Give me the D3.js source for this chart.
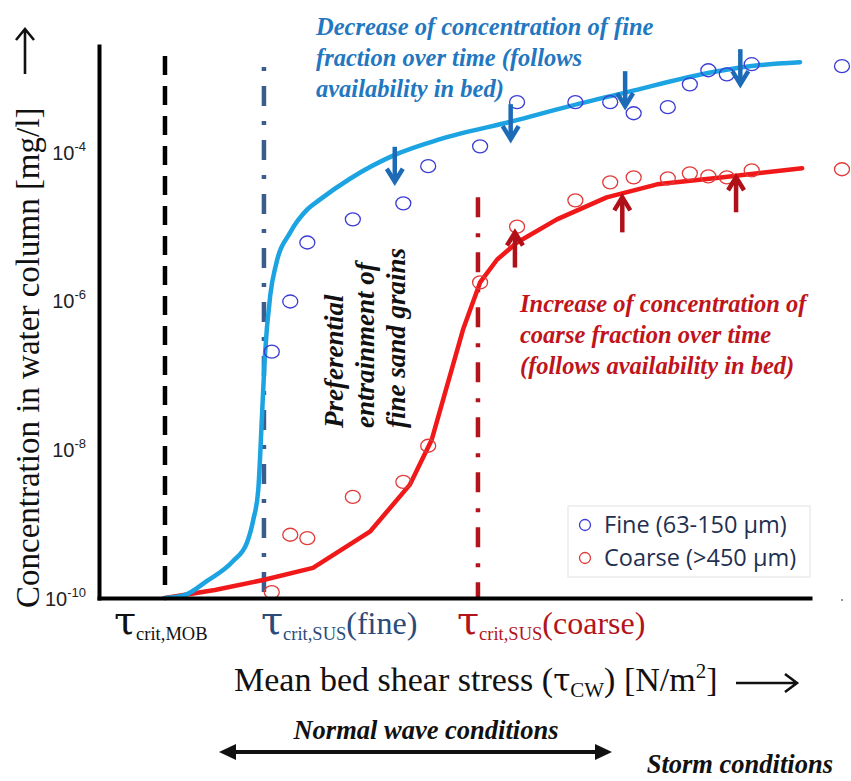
<!DOCTYPE html>
<html>
<head>
<meta charset="utf-8">
<script src="https://cdn.jsdelivr.net/npm/d3@7"></script>
<style>
  body { margin: 0; background: #ffffff; }
  svg { display: block; }
</style>
</head>
<body>
<svg id="chart" width="851" height="781"></svg>
<script>
// Shear stress is given in relative axis units (0–100 along the axis), concentration in mg/l.

// Model curve: fine fraction (63-150 µm)
const fineModelTau = [9.28, 12.1, 15.2, 18.8, 20.8, 21.7, 22.4, 22.9, 23.3, 24.1, 24.9, 26.9, 29.3, 31.1, 35.3, 41.6, 48.0, 58.2, 66.2, 74.3, 86.4, 93.0, 98.6];
const fineModelConc = [1e-10, 1.10e-10, 1.70e-10, 3.10e-10, 5.52e-10, 1.13e-9, 2.86e-9, 2.51e-8, 1.62e-7, 1.22e-6, 3.09e-6, 8.34e-6, 1.70e-5, 2.32e-5, 4.40e-5, 9.2e-5, 1.50e-4, 2.62e-4, 4.17e-4, 6.44e-4, 1.20e-3, 1.49e-3, 1.63e-3];

// Model curve: coarse fraction (>450 µm)
const coarseModelTau = [9.28, 16.3, 23.1, 30.1, 38.1, 43.7, 46.8, 48.4, 51.2, 53.6, 56.0, 58.8, 64.4, 71.4, 78.5, 87.8, 98.9];
const coarseModelConc = [1e-10, 1.28e-10, 1.75e-10, 2.54e-10, 7.8e-10, 3.33e-9, 1.35e-8, 4.68e-8, 4.1e-7, 1.77e-6, 3.6e-6, 6.1e-6, 1.25e-5, 2.47e-5, 3.7e-5, 4.6e-5, 6.1e-5];

// Measurements (both fractions sampled at the same shear stresses)
const obsTau = [24.3, 26.9, 29.3, 35.7, 42.8, 46.3, 53.6, 58.8, 67.0, 71.9, 75.2, 80.0, 83.1, 85.7, 88.3, 91.8, 104.5];
const fineObsConc = [2.07e-7, 9.8e-7, 6.1e-6, 1.25e-5, 2.05e-5, 6.5e-5, 1.2e-4, 4.72e-4, 4.72e-4, 4.72e-4, 3.35e-4, 4.04e-4, 8.2e-4, 1.27e-3, 1.12e-3, 1.53e-3, 1.44e-3];
const coarseObsConc = [1.2e-10, 7.1e-10, 6.4e-10, 2.3e-9, 3.66e-9, 1.12e-8, 1.77e-6, 9.95e-6, 2.25e-5, 3.94e-5, 4.6e-5, 4.46e-5, 5.2e-5, 4.74e-5, 4.6e-5, 5.7e-5, 5.9e-5];

// Critical shear stresses (mobilisation, suspension of fine, suspension of coarse) and line tops
const critNames = ["MOB", "SUS_FINE", "SUS_COARSE"];
const critTau = [9.28, 23.2, 53.3];
const critTopConc = [1.97e-3, 1.4e-3, 2.47e-5];

// Trend arrows: fine concentration falls, coarse concentration rises over time
const fineArrowTau = [41.6, 57.9, 74.0, 90.2];
const fineArrowTipConc = [4.0e-5, 1.5e-4, 4.17e-4, 8.25e-4];
const coarseArrowTau = [58.5, 73.6, 89.6];
const coarseArrowTipConc = [8.3e-6, 2.47e-5, 4.6e-5];

// Axis ticks (powers of ten)
const yTickExponents = [-10, -8, -6, -4];

const legendLabels = ["Fine (63-150 \u03bcm)", "Coarse (>450 \u03bcm)"];

// ---------------------------------------------------------------
const svg = d3.select("#chart");
const serif = "'Liberation Serif', 'Times New Roman', serif";

const x = d3.scaleLinear().domain([0, 100]).range([99, 810]);
const y = d3.scaleLog().domain([1e-10, Math.pow(10, -2.57)]).range([598, 46]);

const colFineLine = "#1ba3e2";
const colCoarseLine = "#f01818";
const colFineDot = "#3b3bd6";
const colCoarseDot = "#e23a3a";
const colFineArrow = "#1d6ab6";
const colCoarseArrow = "#b01018";
const colFineCrit = "#3a5d8c";
const colCoarseCrit = "#b3141c";

// Critical shear stress lines
const critStyles = {
  MOB: { color: "#000000", dash: "19,11" },
  SUS_FINE: { color: colFineCrit, dash: "4,15,20,15" },
  SUS_COARSE: { color: colCoarseCrit, dash: "20,16,4,15" }
};
svg.append("g").selectAll("line")
  .data(critTau.map((t, i) => ({ t, top: critTopConc[i], name: critNames[i] })))
  .join("line")
  .attr("x1", d => x(d.t)).attr("x2", d => x(d.t))
  .attr("y1", d => y(d.top)).attr("y2", y(1e-10))
  .attr("stroke", d => critStyles[d.name].color)
  .attr("stroke-width", 4.5)
  .attr("stroke-dasharray", d => critStyles[d.name].dash);

// Model curves
const fineLine = d3.line().x(d => x(d[0])).y(d => y(d[1])).curve(d3.curveMonotoneX);
const coarseLine = d3.line().x(d => x(d[0])).y(d => y(d[1])).curve(d3.curveLinear);

svg.append("path")
  .datum(coarseModelTau.map((t, i) => [t, coarseModelConc[i]]))
  .attr("d", coarseLine)
  .attr("fill", "none").attr("stroke", colCoarseLine)
  .attr("stroke-width", 4.5).attr("stroke-linejoin", "round").attr("stroke-linecap", "round");

svg.append("path")
  .datum(fineModelTau.map((t, i) => [t, fineModelConc[i]]))
  .attr("d", fineLine)
  .attr("fill", "none").attr("stroke", colFineLine)
  .attr("stroke-width", 4.5).attr("stroke-linejoin", "round").attr("stroke-linecap", "round");

// Measurements (open markers)
function drawMarkers(values, color) {
  svg.append("g").selectAll("ellipse")
    .data(obsTau.map((t, i) => [t, values[i]]))
    .join("ellipse")
    .attr("cx", d => x(d[0])).attr("cy", d => y(d[1]))
    .attr("rx", 7.5).attr("ry", 6.5)
    .attr("fill", "none").attr("stroke", color).attr("stroke-width", 1.3);
}
drawMarkers(fineObsConc, colFineDot);
drawMarkers(coarseObsConc, colCoarseDot);

// Trend arrows
function drawArrows(taus, tips, dir, color) {
  const len = 35;
  const g = svg.append("g").attr("stroke", color).attr("fill", "none");
  taus.forEach((t, i) => {
    const px = x(t), ty = y(tips[i]);
    const tail = ty - dir * len;
    g.append("line").attr("x1", px).attr("x2", px)
      .attr("y1", tail).attr("y2", ty - dir * 4).attr("stroke-width", 4.5);
    g.append("path")
      .attr("d", `M${px - 8},${ty - dir * 13}L${px},${ty}L${px + 8},${ty - dir * 13}`)
      .attr("stroke-width", 4.5).attr("stroke-linejoin", "miter");
  });
}
drawArrows(fineArrowTau, fineArrowTipConc, 1, colFineArrow);
drawArrows(coarseArrowTau, coarseArrowTipConc, -1, colCoarseArrow);

// Axes
const yAxis = d3.axisLeft(y).tickValues(yTickExponents.map(e => Math.pow(10, e)))
  .tickSize(0).tickSizeOuter(0).tickFormat("");
const gy = svg.append("g").attr("transform", `translate(${x(0)},0)`).call(yAxis);
gy.select(".domain").attr("stroke", "#000").attr("stroke-width", 4).attr("stroke-linecap", "square");
gy.selectAll(".tick").each(function (d, i) {
  const t = d3.select(this).append("text")
    .attr("x", -13).attr("y", 7)
    .attr("text-anchor", "end")
    .attr("fill", "#222")
    .attr("font-family", "'Liberation Sans', Arial, sans-serif")
    .attr("font-size", 20);
  t.append("tspan").text("10");
  t.append("tspan").attr("font-size", 13).attr("dy", -9).text("-" + Math.abs(yTickExponents[i]));
});

const xAxis = d3.axisBottom(x).tickValues([]).tickSizeOuter(0);
const gx = svg.append("g").attr("transform", `translate(0,${y(1e-10)})`).call(xAxis);
gx.select(".domain").attr("stroke", "#000").attr("stroke-width", 4).attr("stroke-linecap", "square");

// Critical shear stress labels under the axis
const critLabel = [
  { sub: "crit,MOB", tail: "", color: "#111111" },
  { sub: "crit,SUS", tail: "(fine)", color: "#2b4b7a" },
  { sub: "crit,SUS", tail: "(coarse)", color: "#b3141c" }
];
const labelOffsets = [-51, -3, -21];
critLabel.forEach((c, i) => {
  const t = svg.append("text")
    .attr("x", x(critTau[i]) + labelOffsets[i]).attr("y", 634)
    .attr("fill", c.color).attr("font-family", serif).attr("font-size", 32);
  t.append("tspan").attr("font-family", "'DejaVu Serif', serif").attr("font-size", 40).text("\u03c4");
  t.append("tspan").attr("font-size", 18.5).attr("dy", 6).text(c.sub);
  if (c.tail) t.append("tspan").attr("dy", -6).text(c.tail);
});

// Axis titles
const xt = svg.append("text").attr("x", 234).attr("y", 691)
  .attr("font-family", serif).attr("font-size", 34).attr("fill", "#111");
xt.append("tspan").text("Mean bed shear stress (");
xt.append("tspan").attr("font-family", "'DejaVu Serif', serif").attr("font-size", 31).text("\u03c4");
xt.append("tspan").attr("font-size", 21).attr("dy", 6).text("CW");
xt.append("tspan").attr("dy", -6).text(") [N/m");
xt.append("tspan").attr("font-size", 21).attr("dy", -13).text("2");
xt.append("tspan").attr("dy", 13).text("]");

svg.append("text")
  .attr("transform", "translate(39,608) rotate(-90)")
  .attr("font-family", serif).attr("font-size", 33).attr("fill", "#111")
  .text("Concentration in water column [mg/l]");

// Direction arrows next to the axis titles
const arrowG = svg.append("g").attr("stroke", "#111").attr("fill", "none").attr("stroke-width", 2.6);
arrowG.append("path").attr("d", "M25,74V30 M16,40L25,29L34,40");
arrowG.append("path").attr("d", "M736,683H796 M785,674L797,683L785,692");

// Annotations
function multiLine(lines, x0, y0, dy, color, size) {
  const t = svg.append("text").attr("font-family", serif).attr("font-style", "italic")
    .attr("font-weight", "bold").attr("font-size", size).attr("fill", color);
  lines.forEach((l, i) => t.append("tspan").attr("x", x0).attr("y", y0 + i * dy).text(l));
  return t;
}
multiLine(["Decrease of concentration of fine", "fraction over time (follows", "availability in bed)"],
  316, 35, 31, "#2277c0", 24.5);
multiLine(["Increase of concentration of", "coarse fraction over time", "(follows availability in bed)"],
  520, 312, 31, "#c0141c", 24.5);

["Preferential", "entrainment of", "fine sand grains"].forEach((l, i) => {
  svg.append("text")
    .attr("transform", `translate(${343 + i * 31},428) rotate(-90)`)
    .attr("font-family", serif).attr("font-style", "italic").attr("font-weight", "bold")
    .attr("font-size", 27).attr("fill", "#111").text(l);
});

// Legend
const lg = svg.append("g");
lg.append("rect").attr("x", 568).attr("y", 506).attr("width", 242).attr("height", 71)
  .attr("fill", "#fff").attr("stroke", "#e6e6e6").attr("stroke-width", 1.2);
[colFineDot, colCoarseDot].forEach((c, i) => {
  lg.append("ellipse").attr("cx", 585).attr("cy", 525 + i * 33).attr("rx", 5.5).attr("ry", 5.5)
    .attr("fill", "none").attr("stroke", c).attr("stroke-width", 1.3);
  lg.append("text").attr("x", 604).attr("y", 533 + i * 33)
    .attr("font-family", "'Open Sans', Lato, sans-serif").attr("font-size", 23.5).attr("fill", "#1f3050")
    .text(legendLabels[i]);
});

// Wave condition ranges below the chart
svg.append("text").attr("x", 426).attr("y", 739).attr("text-anchor", "middle")
  .attr("font-family", serif).attr("font-style", "italic").attr("font-weight", "bold")
  .attr("font-size", 26.5).attr("fill", "#111").text("Normal wave conditions");
svg.append("text").attr("x", 833).attr("y", 773).attr("text-anchor", "end")
  .attr("font-family", serif).attr("font-style", "italic").attr("font-weight", "bold")
  .attr("font-size", 26.5).attr("fill", "#111").text("Storm conditions");
const da = svg.append("g").attr("fill", "#111").attr("stroke", "#111");
da.append("line").attr("x1", 230).attr("x2", 600).attr("y1", 752).attr("y2", 752).attr("stroke-width", 4);
da.append("path").attr("d", "M219,752L236,744L236,760Z").attr("stroke", "none");
da.append("path").attr("d", "M612,752L595,744L595,760Z").attr("stroke", "none");

// Small stray mark at the right end of the axis
svg.append("circle").attr("cx", 842).attr("cy", 600).attr("r", 1).attr("fill", "#777");
</script>
</body>
</html>
